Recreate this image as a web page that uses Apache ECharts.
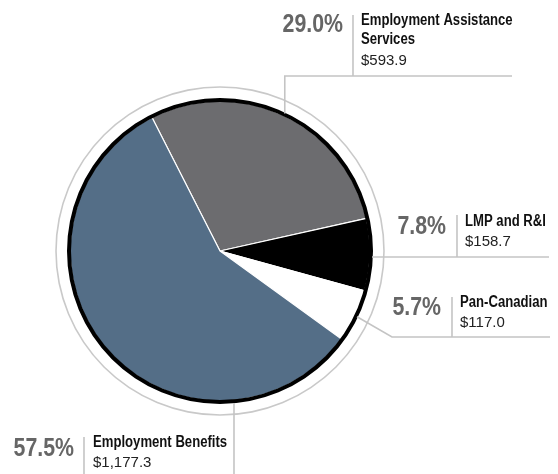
<!DOCTYPE html>
<html>
<head>
<meta charset="utf-8">
<style>
  html, body { margin: 0; padding: 0; background: #fff; }
  #chart { width: 558px; height: 474px; }
</style>
<script src="https://cdn.jsdelivr.net/npm/echarts@6/dist/echarts.min.js"></script>
</head>
<body>
<div id="chart"></div>
<script>
// Program spending by stream ($ millions)
const categories = ['Employment Assistance Services', 'LMP and R&I', 'Pan-Canadian', 'Employment Benefits'];
const titleLines = [['Employment Assistance', 'Services'], ['LMP and R&I'], ['Pan-Canadian'], ['Employment Benefits']];
const amounts = [593.9, 158.7, 117.0, 1177.3];
const amountLabels = ['$593.9', '$158.7', '$117.0', '$1,177.3'];
const sliceColors = ['#6c6c6f', '#000000', '#ffffff', '#546e87'];

// Pie geometry
const CX = 220, CY = 251, R = 150, START = 117;

// Callout placement: percentage right edge / baseline, separator, text column, leader path
const callouts = [
  { pctX: 343, pctY: 34, sepX: 353, sepTop: 15, sepBot: 76, textX: 361, titleY: 26, valueY: 66,
    leader: (p) => [p, [p[0], 76], [512, 76]] },
  { pctX: 446, pctY: 236, sepX: 457, sepTop: 215, sepBot: 257, textX: 465, titleY: 227, valueY: 247,
    leader: () => [[372, 257], [549, 257]] },
  { pctX: 441, pctY: 317, sepX: 452, sepTop: 297, sepBot: 337, textX: 460, titleY: 308, valueY: 328,
    leader: (p) => [p, [392, 337], [550, 337]] },
  { pctX: 74, pctY: 458, sepX: 84, sepTop: 437, sepBot: 474, textX: 93, titleY: 448, valueY: 468,
    leader: () => [[234, 403], [234, 474]] }
];

const total = amounts.reduce((a, b) => a + b, 0);
const pct = amounts.map(v => (v / total * 100).toFixed(1) + '%');

// Midpoint of each slice on the outer edge (clockwise from START)
const edgePoints = [];
let acc = START;
amounts.forEach(v => {
  const span = v / total * 360;
  const mid = (acc - span / 2) * Math.PI / 180;
  edgePoints.push([CX + (R + 2) * Math.cos(mid), CY - (R + 2) * Math.sin(mid)]);
  acc -= span;
});

// Condensed look: bold sans squeezed horizontally
const NARROW = 0.82;
const BOLD = "bold 26px 'Liberation Sans', Arial, sans-serif";
const TITLE = "bold 16px 'Liberation Sans', Arial, sans-serif";
const VALUE = "15px 'Liberation Sans', Arial, sans-serif";
const LINE = '#c4c4c4';

const graphics = [];
callouts.forEach((c, i) => {
  graphics.push({
    type: 'polyline', silent: true, z: 5,
    shape: { points: c.leader(edgePoints[i]) },
    style: { stroke: LINE, lineWidth: 1.6, fill: null }
  });
  graphics.push({
    type: 'line', silent: true, z: 5,
    shape: { x1: c.sepX, y1: c.sepTop, x2: c.sepX, y2: c.sepBot },
    style: { stroke: LINE, lineWidth: 1.6 }
  });
  graphics.push({
    type: 'text', silent: true, z: 6, x: c.pctX, y: c.pctY - 9, scaleX: NARROW,
    style: { text: pct[i], font: BOLD, fill: '#666666', align: 'right', verticalAlign: 'middle' }
  });
  titleLines[i].forEach((t, k) => {
    graphics.push({
      type: 'text', silent: true, z: 6, x: c.textX, y: c.titleY + k * 19.5 - 5.6, scaleX: NARROW,
      style: { text: t, font: TITLE, fill: '#111111', align: 'left', verticalAlign: 'middle' }
    });
  });
  graphics.push({
    type: 'text', silent: true, z: 6, x: c.textX, y: c.valueY - 5.3,
    style: { text: amountLabels[i], font: VALUE, fill: '#222222', align: 'left', verticalAlign: 'middle' }
  });
});

const chart = echarts.init(document.getElementById('chart'), null, { renderer: 'canvas' });
chart.setOption({
  animation: false,
  backgroundColor: '#ffffff',
  series: [
    {
      // outer thin grey ring
      type: 'pie', silent: true, center: [CX, CY], radius: [163.2, 164.8],
      label: { show: false }, labelLine: { show: false },
      itemStyle: { color: '#c9c9c9' },
      data: [{ value: 1, name: 'ring' }], z: 1
    },
    {
      type: 'pie', silent: true, center: [CX, CY], radius: [0, R],
      startAngle: START, clockwise: true,
      label: { show: false }, labelLine: { show: false },
      itemStyle: { borderColor: '#ffffff', borderWidth: 1.2 },
      data: categories.map((name, i) => ({ name, value: amounts[i], itemStyle: { color: sliceColors[i] } })),
      z: 2
    },
    {
      // black rim around the pie
      type: 'pie', silent: true, center: [CX, CY], radius: [R - 1, R + 3],
      label: { show: false }, labelLine: { show: false },
      itemStyle: { color: '#000000' },
      data: [{ value: 1, name: 'rim' }], z: 3
    }
  ],
  graphic: { elements: graphics }
});
</script>
</body>
</html>
